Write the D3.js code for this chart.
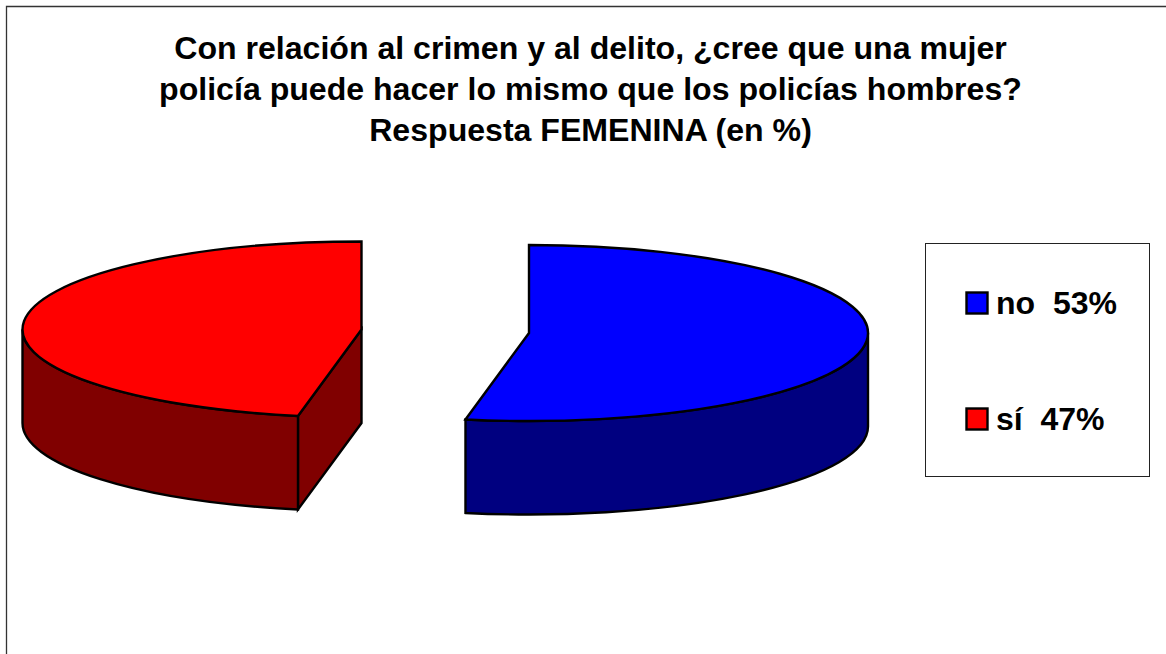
<!DOCTYPE html>
<html><head><meta charset="utf-8">
<script src="https://cdn.jsdelivr.net/npm/d3@7"></script>
<style>html,body{margin:0;padding:0;background:#fff}svg{display:block}text{font-family:"Liberation Sans",Arial,sans-serif;font-weight:bold;fill:#000}</style>
</head><body><div id="chart"></div>
<script>
const categories = ["no", "sí"];
const values = [53, 47];
const legendLabels = ["no  53%", "sí  47%"];
const titleLines = ["Con relación al crimen y al delito, ¿cree que una mujer",
  "policía puede hacer lo mismo que los policías hombres?",
  "Respuesta FEMENINA (en %)"];
const topColors = ["#0000ff", "#ff0000"];
const sideColors = ["#000080", "#800000"];

const W = 1166, H = 654;
const svg = d3.select("#chart").append("svg").attr("width", W).attr("height", H);

svg.append("path").attr("d", "M6.5 654V6.5H1166").attr("fill", "none").attr("stroke", "#333").attr("stroke-width", 1.3);

svg.append("g").selectAll("text").data(titleLines).join("text")
  .attr("x", 590.5).attr("y", (d, i) => 59 + i * 41)
  .attr("text-anchor", "middle").attr("font-size", 32.1).text(d => d);

const pie = d3.pie().sort(null).value(d => d)(values);
const centers = [{cx: 529, cy: 333}, {cx: 361.5, cy: 329.5}];
const rx = 339, ry = 88, depth = 93.5;

function px(c, a) { return d3.scaleLinear([-1, 1], [c.cx - rx, c.cx + rx])(Math.sin(a)); }
function py(c, a, dz = 0) { return d3.scaleLinear([-1, 1], [c.cy - ry, c.cy + ry])(-Math.cos(a)) + dz; }
const large = (a0, a1) => (a1 - a0) > Math.PI ? 1 : 0;

function topPath(c, a0, a1) {
  return `M${c.cx},${c.cy}L${px(c, a0)},${py(c, a0)}A${rx},${ry} 0 ${large(a0, a1)} 1 ${px(c, a1)},${py(c, a1)}Z`;
}
function wallPath(c, a0, a1) {
  return `M${px(c, a0)},${py(c, a0)}A${rx},${ry} 0 0 1 ${px(c, a1)},${py(c, a1)}` +
         `L${px(c, a1)},${py(c, a1, depth)}A${rx},${ry} 0 0 0 ${px(c, a0)},${py(c, a0, depth)}Z`;
}
function cutPath(c, a) {
  return `M${c.cx},${c.cy}L${px(c, a)},${py(c, a)}L${px(c, a)},${py(c, a, depth)}L${c.cx},${c.cy + depth}Z`;
}

const g = svg.append("g").attr("stroke", "#000").attr("stroke-width", 2.4).attr("stroke-linejoin", "miter");
pie.forEach((p, i) => {
  const c = centers[i];
  const front0 = Math.max(p.startAngle, Math.PI / 2);
  const front1 = Math.min(p.endAngle, 3 * Math.PI / 2);
  if (i === 1) g.append("path").attr("d", cutPath(c, p.startAngle)).attr("fill", sideColors[i]);
  g.append("path").attr("d", wallPath(c, front0, front1)).attr("fill", sideColors[i]);
  g.append("path").attr("d", topPath(c, p.startAngle, p.endAngle)).attr("fill", topColors[i]);
});

svg.append("rect").attr("x", 925.5).attr("y", 243.5).attr("width", 224).attr("height", 233)
  .attr("fill", "#fff").attr("stroke", "#222").attr("stroke-width", 1);
const legendY = d3.scalePoint().domain(categories).range([303, 419]);
const lg = svg.append("g").selectAll("g").data(categories).join("g");
lg.append("rect").attr("x", 966.5).attr("y", d => legendY(d) - 10.5).attr("width", 21).attr("height", 21)
  .attr("fill", (d, i) => topColors[i]).attr("stroke", "#000").attr("stroke-width", 2.4);
lg.append("text").attr("x", 996).attr("y", d => legendY(d) + 11).attr("font-size", 32)
  .attr("xml:space", "preserve").style("white-space", "pre").text((d, i) => legendLabels[i]);
</script></body></html>
